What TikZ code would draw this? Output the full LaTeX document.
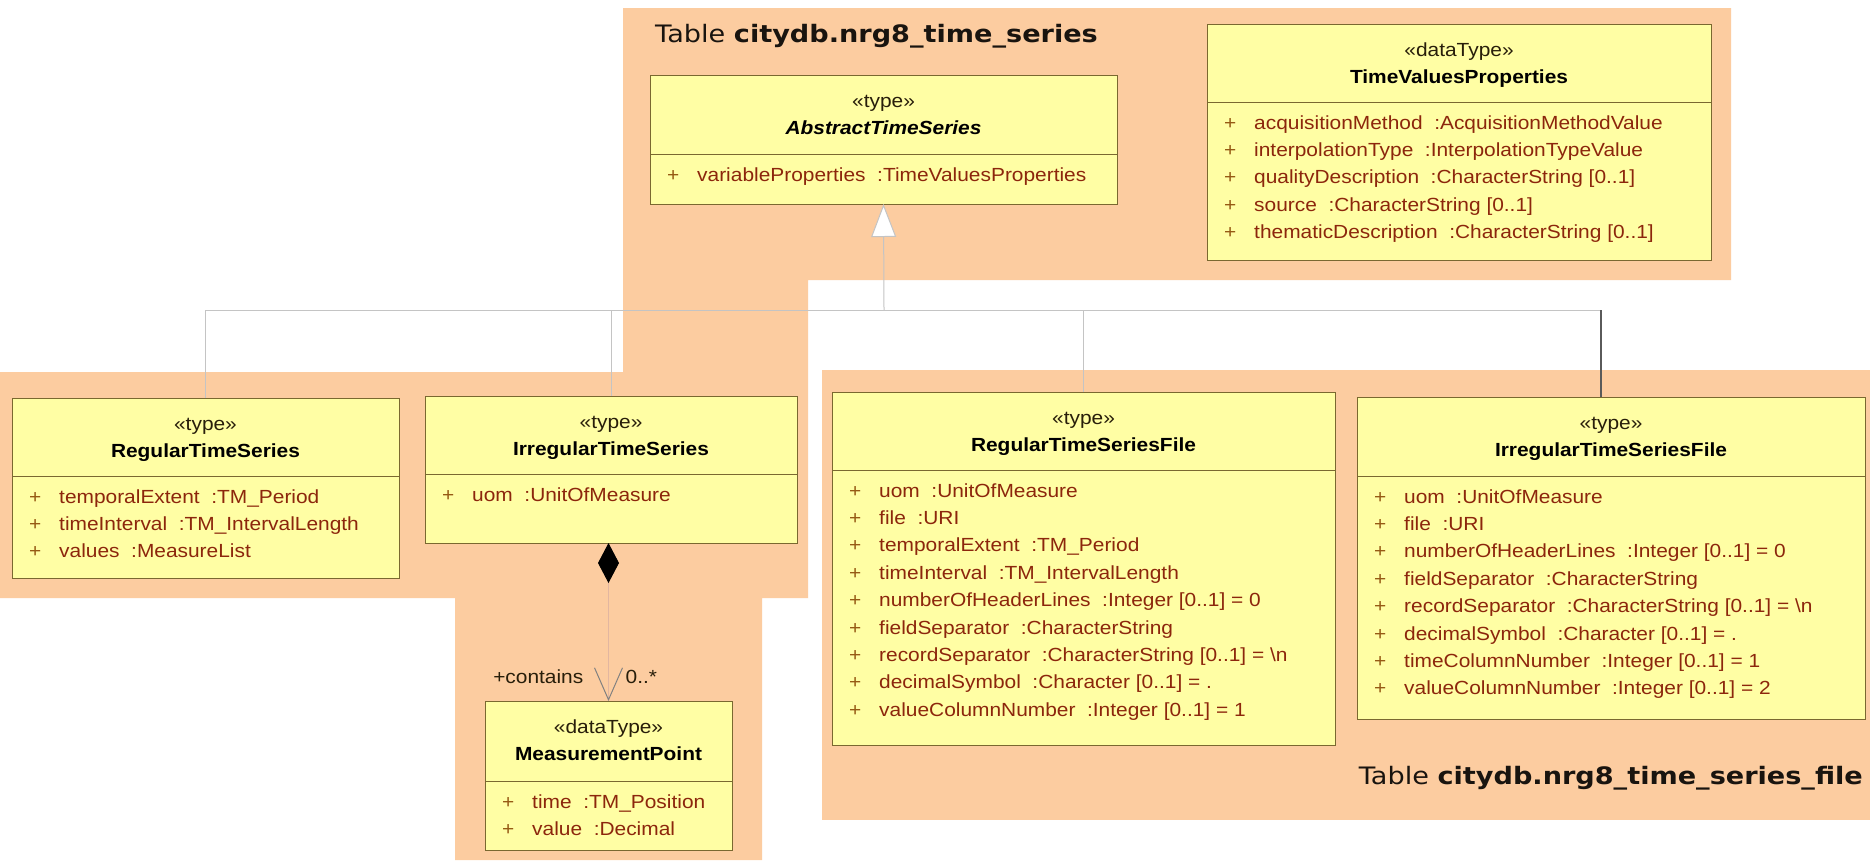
\documentclass[tikz,border=0pt]{standalone}
\usepackage{fontspec}
\setmainfont{Liberation Sans}
\newfontfamily\umlfont[FakeStretch=1.1]{Liberation Sans}
\newfontfamily\tablefont[FakeStretch=1.13]{DejaVu Sans}
\usetikzlibrary{arrows.meta,calc}

\definecolor{pkgfill}{RGB}{252,204,160}
\definecolor{classfill}{RGB}{255,254,164}
\definecolor{classedge}{RGB}{122,104,48}
\definecolor{attrtext}{RGB}{140,38,12}
\definecolor{plustext}{RGB}{150,90,20}
\definecolor{headtext}{RGB}{40,30,10}
\definecolor{genlight}{RGB}{196,196,196}
\definecolor{gendark}{RGB}{90,90,90}
\definecolor{complight}{RGB}{226,182,160}
\definecolor{titletext}{RGB}{25,20,15}

\tikzset{
  classbox/.style={draw=classedge, fill=classfill, line width=1pt, inner sep=0pt, outer sep=0pt},
  sepline/.style={draw=classedge, line width=0.9pt},
  stereo/.style={font=\umlfont\fontsize{19}{22}\selectfont, text=headtext, anchor=base, inner sep=0pt},
  cname/.style={font=\umlfont\fontsize{19}{22}\selectfont\bfseries, text=black, anchor=base, inner sep=0pt},
  attr/.style={font=\umlfont\fontsize{19}{22}\selectfont, text=attrtext, anchor=base west, inner sep=0pt},
  plus/.style={font=\umlfont\fontsize{19}{22}\selectfont, text=plustext, anchor=base west, inner sep=0pt},
  role/.style={font=\umlfont\fontsize{19}{22}\selectfont, text=headtext, inner sep=0pt},
  tabletitle/.style={font=\tablefont\fontsize{24}{28}\selectfont, text=titletext, inner sep=0pt},
  genl/.style={draw=genlight, line width=1pt},
  gend/.style={draw=gendark, line width=1.3pt},
  compl/.style={draw=complight, line width=1pt},
}

% UML class: name, x1, y1, x2, y2, separator y, stereotype, class name, attributes
\newcommand\umlclass[9]{%
  \node[classbox, anchor=north west, minimum width={#4-#2}, minimum height={#5-#3}] (#1) at (#2,#3) {};
  \draw[sepline] ({#2},{#6}) -- ({#4},{#6});
  \node[stereo] (#1-st) at ({(#2+#4)/2},{#3+32}) {«#7»};
  \node[cname] (#1-nm) at ({(#2+#4)/2},{#3+59}) {#8};
  \foreach \a [count=\i from 0] in {#9} {
    \node[plus] (#1-p\i) at ({#2+17},{#6+27+27.4*\i}) {+};
    \node[attr] (#1-a\i) at ({#2+47},{#6+27+27.4*\i}) {\a};
  }%
}

\begin{document}
\begin{tikzpicture}[x=1pt, y=-1pt]
\useasboundingbox (0,0) rectangle (1870,860);
\fill[white] (0,0) rectangle (1870,860);

% package areas
\fill[pkgfill] (623,8) -- (1731,8) -- (1731,280) -- (808,280) -- (808,598) -- (762,598)
  -- (762,860) -- (455,860) -- (455,598) -- (0,598) -- (0,372) -- (623,372) -- cycle;
\fill[pkgfill] (822,370) rectangle (1870,820);

\node[tabletitle, anchor=base west] (pkgtitleA) at (655,42) {Table \textbf{citydb.nrg8\_time\_series}};
\node[tabletitle, anchor=base east] (pkgtitleB) at (1863,784) {Table \textbf{citydb.nrg8\_time\_series\_file}};

% classes
\umlclass{ats}{650}{75}{1117}{204}{154}{type}{\itshape AbstractTimeSeries}%
  {{variableProperties~~:TimeValuesProperties}}

\umlclass{tvp}{1207}{24}{1711}{260}{102}{dataType}{TimeValuesProperties}%
  {{acquisitionMethod~~:AcquisitionMethodValue},
   {interpolationType~~:InterpolationTypeValue},
   {qualityDescription~~:CharacterString [0..1]},
   {source~~:CharacterString [0..1]},
   {thematicDescription~~:CharacterString [0..1]}}

\umlclass{rts}{12}{398}{399}{578}{476}{type}{RegularTimeSeries}%
  {{temporalExtent~~:TM\_Period},
   {timeInterval~~:TM\_IntervalLength},
   {values~~:MeasureList}}

\umlclass{its}{425}{396}{797}{543}{474}{type}{IrregularTimeSeries}%
  {{uom~~:UnitOfMeasure}}

\umlclass{mp}{485}{701}{732}{850}{781}{dataType}{MeasurementPoint}%
  {{time~~:TM\_Position},
   {value~~:Decimal}}

\umlclass{rtsf}{832}{392}{1335}{745}{470}{type}{RegularTimeSeriesFile}%
  {{uom~~:UnitOfMeasure},
   {file~~:URI},
   {temporalExtent~~:TM\_Period},
   {timeInterval~~:TM\_IntervalLength},
   {numberOfHeaderLines~~:Integer [0..1] = 0},
   {fieldSeparator~~:CharacterString},
   {recordSeparator~~:CharacterString [0..1] = \textbackslash n},
   {decimalSymbol~~:Character [0..1] = .},
   {valueColumnNumber~~:Integer [0..1] = 1}}

\umlclass{itsf}{1357}{397}{1865}{719}{476}{type}{IrregularTimeSeriesFile}%
  {{uom~~:UnitOfMeasure},
   {file~~:URI},
   {numberOfHeaderLines~~:Integer [0..1] = 0},
   {fieldSeparator~~:CharacterString},
   {recordSeparator~~:CharacterString [0..1] = \textbackslash n},
   {decimalSymbol~~:Character [0..1] = .},
   {timeColumnNumber~~:Integer [0..1] = 1},
   {valueColumnNumber~~:Integer [0..1] = 2}}

% generalization tree
\coordinate (bus) at (884,310);
\draw[genl] (rts.north) |- (bus);
\draw[genl] (its.north) |- (bus);
\draw[genl] (rtsf.north) |- (bus);
\draw[genl] ($(itsf.north)+(-10,0)$) |- (bus);
\draw[gend] ($(itsf.north)+(-10,0)$) -- ($(itsf.north)+(-10,-87)$);
\draw[genl, -{Triangle[length=33pt, width=25pt, fill=white, color=genlight]}] (bus) -- (ats.south);

% composition
\draw[compl, {Diamond[length=40pt, width=21pt, fill=black, color=black]}-{Straight Barb[length=32pt, width=28pt, color=gray]}]
  (its.south -| mp.north) -- (mp.north);
\node[role, anchor=base east] (rolename) at ($(mp.north)+(-25,-18)$) {+contains};
\node[role, anchor=base west] (rolemult) at ($(mp.north)+(17,-18)$) {0..*};
\end{tikzpicture}
\end{document}
